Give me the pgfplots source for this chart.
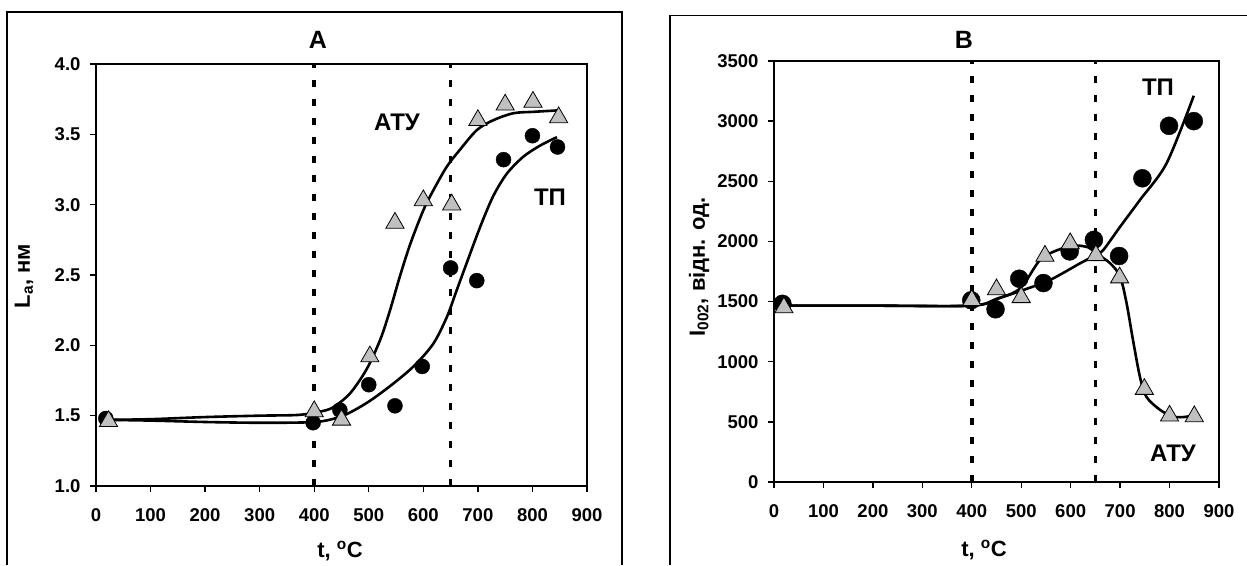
\documentclass[border=0pt]{standalone}
\usepackage{fontspec}
\setmainfont{Liberation Sans}
\usepackage{pgfplots}
\pgfplotsset{compat=1.18}
\definecolor{trigray}{RGB}{192,192,192}
\pgfplotsset{
  panel/.style={
    scale only axis, anchor=south west,
    xmin=0, xmax=900, xtick={0,100,...,900},
    tick align=outside, xtick pos=bottom, ytick pos=left,
    major tick length=6pt,
    every tick/.style={black, line width=1.4pt},
    axis line style={line width=1.4pt},
    ticklabel style={font=\fontsize{18.5}{20}\selectfont\bfseries},
    xticklabel style={yshift=-13pt},
    yticklabel style={xshift=-6pt},
    /pgf/number format/assume math mode=true,
    /pgf/number format/1000 sep={},
  },
  fitline/.style={black, line width=2.6pt, smooth, no marks},
  vline/.style={black, line width=3.5pt, dash pattern=on 7pt off 12pt, no marks},
  tpmark/.style={only marks, mark=*, mark size=#1, mark options={fill=black, draw=black}},
  atumark/.style={only marks, mark=triangle*, mark size=10.5pt, mark options={fill=trigray, draw=black, line width=0.8pt}},
}
\begin{document}
\begin{tikzpicture}[x=1pt,y=1pt]
\useasboundingbox (0,0) rectangle (1247,565);
% frames
\draw[line width=1.2pt] (7,0) -- (7,553) -- (622,553) -- (622,0);
\draw[line width=1.2pt] (670,0) -- (670,549.5) -- (1247,549.5);

% ---------- Panel A ----------
\begin{axis}[panel, at={(96pt,79pt)}, width=491pt, height=422pt,
  ymin=1, ymax=4, ytick={1,1.5,...,4},
  yticklabel style={/pgf/number format/.cd, fixed, fixed zerofill, precision=1}]
\addplot[vline] coordinates {(400,1) (400,4)};
\addplot[vline] coordinates {(650,1) (650,4)};
% fitted curve ATU
\addplot[fitline] coordinates {
(20,1.47) (100,1.475) (200,1.49) (300,1.50) (370,1.505) (410,1.528) (435,1.56)
(466,1.66) (496,1.83) (521,2.04) (539,2.25) (557,2.49) (576,2.72) (600,2.96)
(618,3.10) (643,3.27) (667,3.39) (698,3.53) (728,3.60) (765,3.65) (802,3.66) (846,3.67)};
% fitted curve TP
\addplot[fitline] coordinates {
(20,1.47) (100,1.465) (200,1.455) (280,1.45) (350,1.45) (410,1.458) (453,1.50)
(496,1.59) (539,1.71) (582,1.85) (618,2.01) (643,2.20) (661,2.39) (679,2.58)
(704,2.84) (728,3.06) (753,3.22) (783,3.34) (814,3.42) (845,3.48)};
% TP circles
\addplot[tpmark=7.5pt] coordinates {
(18,1.48) (398,1.45) (447,1.54) (500,1.72) (548,1.57) (598,1.85) (650,2.55)
(698,2.46) (747,3.32) (800,3.49) (846,3.41)};
% ATU triangles
\addplot[atumark] coordinates {
(23,1.46) (400,1.53) (450,1.47) (502,1.92) (548,2.87) (600,3.03) (652,3.00)
(700,3.60) (750,3.71) (801,3.73) (848,3.62)};
\end{axis}

% ---------- Panel B ----------
\begin{axis}[panel, at={(774pt,83pt)}, width=445pt, height=421pt,
  ymin=0, ymax=3500, ytick={0,500,...,3500}]
\addplot[vline] coordinates {(400,0) (400,3500)};
\addplot[vline] coordinates {(650,0) (650,3500)};
% fitted TP
\addplot[fitline] coordinates {
(10,1466) (200,1466) (400,1466) (453,1527) (504,1596) (558,1679) (619,1818)
(650,1885) (666,1929) (700,2122) (740,2344) (794,2650) (849,3211)};
% fitted ATU
\addplot[fitline] coordinates {
(10,1466) (200,1466) (400,1466) (450,1520) (498,1610) (538,1846) (574,1929)
(609,1965) (636,1950) (652,1900) (680,1818) (700,1707) (713,1488) (726,1181)
(740,876) (753,709) (781,599) (808,543) (835,543) (855,571)};
\addplot[tpmark=9pt] coordinates {
(17,1481) (399,1511) (448,1436) (496,1690) (545,1654) (598,1917) (647,2013)
(698,1879) (745,2525) (799,2961) (849,3000)};
\addplot[atumark] coordinates {
(20,1450) (400,1511) (450,1600) (500,1535) (548,1879) (599,1983) (651,1884)
(699,1699) (749,772) (800,550) (850,545)};
\end{axis}

% ---------- texts ----------
\node[font=\fontsize{25}{27}\selectfont\bfseries] at (318,525) {A};
\node[font=\fontsize{25}{27}\selectfont\bfseries] at (964,525) {B};
\node[font=\fontsize{24}{26}\selectfont\bfseries] at (397,443) {АТУ};
\node[font=\fontsize{24}{26}\selectfont\bfseries] at (550,368) {ТП};
\node[font=\fontsize{24}{26}\selectfont\bfseries] at (1158,478) {ТП};
\node[font=\fontsize{24}{26}\selectfont\bfseries] at (1173,112) {АТУ};
\node[font=\fontsize{22}{24}\selectfont\bfseries] at (340,14) {t, \textsuperscript{o}C};
\node[font=\fontsize{22}{24}\selectfont\bfseries] at (984,15) {t, \textsuperscript{o}C};
\node[font=\fontsize{22}{24}\selectfont\bfseries, rotate=90] at (24,289) {L\textsubscript{a}, нм};
\node[font=\fontsize{22}{24}\selectfont\bfseries, rotate=90] at (699,298) {I\textsubscript{002}, відн. од.};
\end{tikzpicture}
\end{document}
